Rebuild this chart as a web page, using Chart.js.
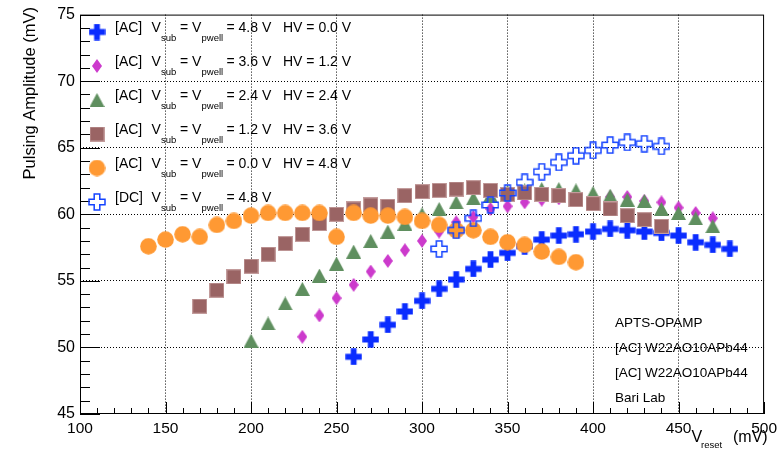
<!DOCTYPE html>
<html>
<head>
<meta charset="utf-8">
<script src="https://cdn.jsdelivr.net/npm/chart.js@4.4.1/dist/chart.umd.min.js"></script>
<style>
  html, body { margin: 0; padding: 0; background: #ffffff; }
  #wrap { width: 782px; height: 456px; }
</style>
</head>
<body>
<div id="wrap"><canvas id="c" width="782" height="456"></canvas></div>
<script>
// ---------- data ----------
const vresetAC48 = [260, 270, 280, 290, 300, 310, 320, 330, 340, 350, 360, 370, 380, 390, 400, 410, 420, 430, 440, 450, 460, 470, 480];
const ampAC48    = [49.3, 50.6, 51.7, 52.7, 53.5, 54.4, 55.1, 55.9, 56.6, 57.1, 57.6, 58.1, 58.4, 58.5, 58.7, 58.9, 58.8, 58.7, 58.6, 58.4, 57.9, 57.7, 57.4];

const vresetAC36 = [230, 240, 250, 260, 270, 280, 290, 300, 310, 320, 330, 340, 350, 360, 370, 380, 390, 400, 410, 420, 430, 440, 450, 460, 470];
const ampAC36    = [50.8, 52.4, 53.7, 54.7, 55.7, 56.5, 57.3, 58.0, 58.7, 59.4, 59.8, 60.4, 60.6, 60.9, 61.1, 61.2, 61.3, 61.3, 61.3, 61.3, 61.0, 60.9, 60.5, 60.1, 59.7];

const vresetAC24 = [200, 210, 220, 230, 240, 250, 260, 270, 280, 290, 300, 310, 320, 330, 340, 350, 360, 370, 380, 390, 400, 410, 420, 430, 440, 450, 460, 470];
const ampAC24    = [50.5, 51.8, 53.3, 54.4, 55.4, 56.3, 57.2, 58.0, 58.7, 59.3, 60.0, 60.4, 60.9, 61.2, 61.4, 61.7, 61.8, 61.9, 61.9, 61.8, 61.6, 61.4, 61.1, 61.0, 60.4, 60.1, 59.7, 59.1];

const vresetAC12 = [170, 180, 190, 200, 210, 220, 230, 240, 250, 260, 270, 280, 290, 300, 310, 320, 330, 340, 350, 360, 370, 380, 390, 400, 410, 420, 430, 440];
const ampAC12    = [53.1, 54.3, 55.3, 56.1, 57.0, 57.8, 58.5, 59.3, 60.0, 60.4, 60.7, 60.6, 61.4, 61.7, 61.8, 61.9, 62.0, 61.8, 61.5, 61.6, 61.5, 61.4, 61.1, 60.8, 60.4, 59.9, 59.6, 59.1];

const vresetAC00 = [140, 150, 160, 170, 180, 190, 200, 210, 220, 230, 240, 250, 260, 270, 280, 290, 300, 310, 320, 330, 340, 350, 360, 370, 380, 390];
const ampAC00    = [57.6, 58.1, 58.5, 58.3, 59.2, 59.5, 59.9, 60.1, 60.1, 60.1, 60.1, 58.3, 60.1, 59.9, 59.9, 59.8, 59.5, 59.2, 58.8, 58.8, 58.3, 57.9, 57.7, 57.2, 56.8, 56.4];

const vresetDC48 = [310, 320, 330, 340, 350, 360, 370, 380, 390, 400, 410, 420, 430, 440];
const ampDC48    = [57.4, 58.8, 59.7, 60.7, 61.6, 62.4, 63.2, 63.9, 64.4, 64.8, 65.2, 65.4, 65.3, 65.1];

const xTickLabels = ['100', '150', '200', '250', '300', '350', '400', '450', '500'];
const yTickLabels = ['45', '50', '55', '60', '65', '70', '75'];

const legendRows = [
  { tag: '[AC]', vsub: '4.8 V', hv: '0.0 V' },
  { tag: '[AC]', vsub: '3.6 V', hv: '1.2 V' },
  { tag: '[AC]', vsub: '2.4 V', hv: '2.4 V' },
  { tag: '[AC]', vsub: '1.2 V', hv: '3.6 V' },
  { tag: '[AC]', vsub: '0.0 V', hv: '4.8 V' },
  { tag: '[DC]', vsub: '4.8 V', hv: null }
];
const infoLines = ['APTS-OPAMP', '[AC] W22AO10APb44', '[AC] W22AO10APb44', 'Bari Lab'];

// ---------- marker images ----------
const FONT = "'Liberation Sans', Arial, Helvetica, sans-serif";
function mk(w, h, draw) {
  const c = document.createElement('canvas');
  c.width = w; c.height = h;
  draw(c.getContext('2d'), w, h);
  return c;
}
function plusPath(g, cx, cy, L, t) {
  g.beginPath();
  g.moveTo(cx - t, cy - L); g.lineTo(cx + t, cy - L); g.lineTo(cx + t, cy - t);
  g.lineTo(cx + L, cy - t); g.lineTo(cx + L, cy + t); g.lineTo(cx + t, cy + t);
  g.lineTo(cx + t, cy + L); g.lineTo(cx - t, cy + L); g.lineTo(cx - t, cy + t);
  g.lineTo(cx - L, cy + t); g.lineTo(cx - L, cy - t); g.lineTo(cx - t, cy - t);
  g.closePath();
}
const mPlusFull = mk(17, 17, (g) => { plusPath(g, 8.5, 8.5, 8.2, 2.9); g.fillStyle = '#0a2cff'; g.fill(); });
const mPlusOpen = mk(18, 18, (g) => { plusPath(g, 9, 9, 8, 2.8); g.lineWidth = 1.5; g.strokeStyle = '#1443ff'; g.stroke(); });
const mDiamond  = mk(10, 14, (g) => { g.beginPath(); g.moveTo(5, 0); g.lineTo(10, 7); g.lineTo(5, 14); g.lineTo(0, 7); g.closePath(); g.fillStyle = '#cc3acc'; g.fill(); });
const mTriangle = mk(15, 14, (g) => { g.beginPath(); g.moveTo(7.5, 0); g.lineTo(15, 14); g.lineTo(0, 14); g.closePath(); g.fillStyle = '#5f8f5f'; g.fill(); });
const mSquare   = mk(15, 15, (g) => { g.fillStyle = '#9a6464'; g.fillRect(0, 0, 15, 15); g.strokeStyle = 'rgba(205,170,170,0.8)'; g.lineWidth = 1; g.strokeRect(0.5, 0.5, 14, 14); });
const mCircle   = mk(17, 17, (g) => { g.beginPath(); g.arc(8.5, 8.5, 8.3, 0, Math.PI * 2); g.fillStyle = '#ff9933'; g.fill(); });

const legendMarkers = [mPlusFull, mDiamond, mTriangle, mSquare, mCircle, mPlusOpen];

function pts(xs, ys) { return xs.map((x, i) => ({ x: x, y: ys[i] })); }

// ---------- custom drawing plugin (frame, inner ticks, titles, legend, info) ----------
const rootStyle = {
  id: 'rootStyle',
  beforeDatasetsDraw(chart) {
    const ctx = chart.ctx, a = chart.chartArea;
    const xs = chart.scales.x, ys = chart.scales.y;
    ctx.save();
    ctx.strokeStyle = '#000'; ctx.lineWidth = 1;
    ctx.beginPath();
    for (let v = 45; v <= 75; v += 1) {
      const p = Math.round(ys.getPixelForValue(v)) + 0.5;
      const len = (v % 5 === 0) ? 20 : 10;
      ctx.moveTo(a.left, p); ctx.lineTo(a.left + len, p);
    }
    for (let v = 100; v <= 500; v += 10) {
      const p = Math.round(xs.getPixelForValue(v)) + 0.5;
      const len = (v % 50 === 0) ? 12 : 6;
      ctx.moveTo(p, a.bottom); ctx.lineTo(p, a.bottom - len);
    }
    ctx.stroke();
    ctx.restore();
  },
  afterDraw(chart) {
    const ctx = chart.ctx, a = chart.chartArea;
    ctx.save();
    // frame
    ctx.strokeStyle = '#000'; ctx.lineWidth = 1;
    ctx.strokeRect(a.left + 0.5, a.top + 0.5, a.right - a.left - 1, a.bottom - a.top - 1);
    ctx.fillStyle = '#000';
    ctx.textBaseline = 'alphabetic';
    // y title
    ctx.save();
    ctx.translate(35, 7);
    ctx.rotate(-Math.PI / 2);
    ctx.textAlign = 'right';
    ctx.font = '16.5px ' + FONT;
    ctx.fillText('Pulsing Amplitude (mV)', 0, 0);
    ctx.restore();
    // x title
    ctx.textAlign = 'left';
    ctx.font = '16px ' + FONT;
    ctx.fillText('V', 691.5, 442);
    ctx.font = '9.5px ' + FONT;
    ctx.fillText('reset', 701, 448);
    ctx.font = '16px ' + FONT;
    ctx.fillText('(mV)', 733, 442);
    // legend
    const rowY = [32, 66, 100, 134, 168, 202];
    legendRows.forEach((r, i) => {
      const y = rowY[i];
      const m = legendMarkers[i];
      ctx.drawImage(m, 97 - m.width / 2, y - m.height / 2);
      const b = y - 0.5;
      ctx.font = '14px ' + FONT;
      ctx.fillText(r.tag, 115, b);
      ctx.fillText('V', 151.5, b);
      ctx.font = '9.5px ' + FONT;
      ctx.fillText('sub', 161, b + 9.5);
      ctx.font = '14px ' + FONT;
      ctx.fillText('= V', 180, b);
      ctx.font = '9.5px ' + FONT;
      ctx.fillText('pwell', 201.5, b + 9.5);
      ctx.font = '14px ' + FONT;
      ctx.fillText('= ' + r.vsub, 226.5, b);
      if (r.hv) ctx.fillText('HV = ' + r.hv, 283, b);
    });
    // info text
    ctx.font = '13.5px ' + FONT;
    const infoY = [327, 352, 377, 402];
    infoLines.forEach((t, i) => ctx.fillText(t, 615, infoY[i]));
    ctx.restore();
  }
};

const datasets = [
  { label: '[DC] Vsub = Vpwell = 4.8 V', data: pts(vresetDC48, ampDC48), pointStyle: mPlusOpen, order: 0 },
  { label: '[AC] Vsub = Vpwell = 0.0 V HV = 4.8 V', data: pts(vresetAC00, ampAC00), pointStyle: mCircle, order: 1 },
  { label: '[AC] Vsub = Vpwell = 1.2 V HV = 3.6 V', data: pts(vresetAC12, ampAC12), pointStyle: mSquare, order: 2 },
  { label: '[AC] Vsub = Vpwell = 2.4 V HV = 2.4 V', data: pts(vresetAC24, ampAC24), pointStyle: mTriangle, order: 3 },
  { label: '[AC] Vsub = Vpwell = 3.6 V HV = 1.2 V', data: pts(vresetAC36, ampAC36), pointStyle: mDiamond, order: 4 },
  { label: '[AC] Vsub = Vpwell = 4.8 V HV = 0.0 V', data: pts(vresetAC48, ampAC48), pointStyle: mPlusFull, order: 5 }
].map(d => Object.assign(d, { showLine: false, pointRadius: 8, pointHoverRadius: 8, borderWidth: 0 }));

const gridColor = (lo, hi, step) => (c) => {
  const v = c.tick ? c.tick.value : null;
  if (v === null || v === lo || v === hi) return 'rgba(0,0,0,0)';
  return (Math.round(v) % step === 0) ? '#000' : 'rgba(0,0,0,0)';
};

new Chart(document.getElementById('c'), {
  type: 'scatter',
  data: { datasets: datasets },
  options: {
    responsive: false,
    animation: false,
    devicePixelRatio: 1,
    layout: { padding: { left: 0, right: 14, top: 11, bottom: 0 } },
    plugins: { legend: { display: false }, tooltip: { enabled: false } },
    scales: {
      x: {
        type: 'linear', min: 100, max: 500,
        afterFit: (s) => { s.height = 42; },
        ticks: {
          stepSize: 10, autoSkip: false, maxRotation: 0, padding: 5,
          color: '#000', font: { family: FONT, size: 15.5 },
          callback: (v) => (v % 50 === 0 && xTickLabels.includes(String(v))) ? String(v) : ''
        },
        grid: { drawTicks: false, color: gridColor(100, 500, 50), lineWidth: 1 },
        border: { display: false, dash: [1, 2] }
      },
      y: {
        type: 'linear', min: 45, max: 75,
        afterFit: (s) => { s.width = 80; },
        ticks: {
          stepSize: 1, autoSkip: false, padding: 5,
          color: '#000', font: { family: FONT, size: 16 },
          callback: (v) => (v % 5 === 0 && yTickLabels.includes(String(v))) ? String(v) : ''
        },
        grid: { drawTicks: false, color: gridColor(45, 75, 5), lineWidth: 1 },
        border: { display: false, dash: [1, 2] }
      }
    }
  },
  plugins: [rootStyle]
});
</script>
</body>
</html>
